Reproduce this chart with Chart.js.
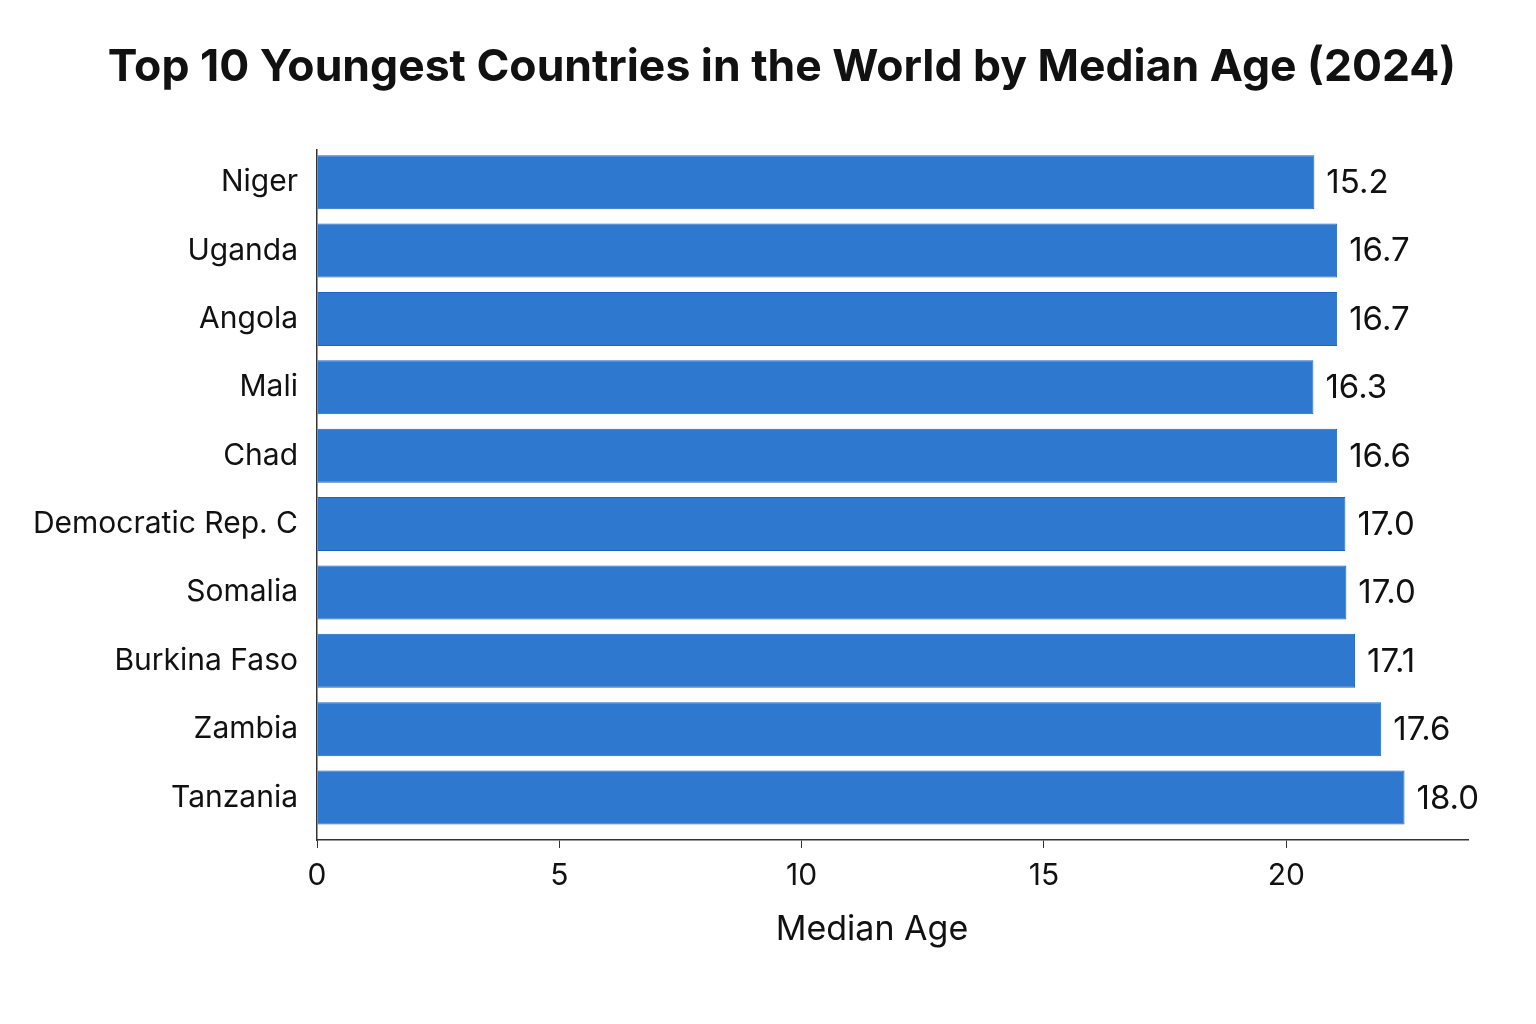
<!DOCTYPE html>
<html>
<head>
<meta charset="utf-8">
<title>Top 10 Youngest Countries</title>
<script src="https://cdn.jsdelivr.net/npm/chart.js@4.4.1/dist/chart.umd.min.js"></script>
<style>
  html, body { margin: 0; padding: 0; background: #fff; }
  #wrap { width: 1536px; height: 1024px; }
</style>
</head>
<body>
<div id="wrap"><canvas id="grafico" width="1536" height="1024"></canvas></div>
<script>
// datos
const paises = ["Niger", "Uganda", "Angola", "Mali", "Chad", "Democratic Rep. C", "Somalia", "Burkina Faso", "Zambia", "Tanzania"];
// largo de cada barra segun el eje x
const largoBarras = [20.58, 21.05, 21.05, 20.56, 21.05, 21.22, 21.24, 21.42, 21.96, 22.44];
// texto que aparece al lado de cada barra
const etiquetas = ["15.2", "16.7", "16.7", "16.3", "16.6", "17.0", "17.0", "17.1", "17.6", "18.0"];
const ticksX = [0, 5, 10, 15, 20];

const titulo = "Top 10 Youngest Countries in the World by Median Age (2024)";
const tituloEjeX = "Median Age";
const fuente = "Inter, 'Noto Sans', sans-serif";

// etiquetas al final de cada barra + titulos
const pluginTextos = {
  id: "textos",
  afterDatasetsDraw(chart) {
    const ctx = chart.ctx;
    const meta = chart.getDatasetMeta(0);
    ctx.save();
    ctx.font = "33px " + fuente;
    ctx.fillStyle = "#111";
    ctx.textAlign = "left";
    ctx.textBaseline = "middle";
    meta.data.forEach((barra, i) => {
      ctx.fillText(etiquetas[i], barra.x + 12, barra.y + 1);
    });
    ctx.restore();
  },
  afterDraw(chart) {
    const ctx = chart.ctx;
    ctx.save();
    ctx.fillStyle = "#111";
    ctx.textAlign = "center";
    ctx.textBaseline = "middle";
    ctx.font = "bold 44.5px " + fuente;
    ctx.fillText(titulo, 782, 68);
    ctx.font = "34px " + fuente;
    ctx.fillText(tituloEjeX, 872, 930);
    ctx.restore();
  }
};

const datos = paises.map((p, i) => ({ x: largoBarras[i], y: i }));

new Chart(document.getElementById("grafico"), {
  type: "bar",
  data: {
    datasets: [{
      data: datos,
      backgroundColor: "#2f78cf",
      borderColor: "#1c63c8",
      borderWidth: 1,
      barPercentage: 0.79,
      categoryPercentage: 1
    }]
  },
  options: {
    indexAxis: "y",
    responsive: false,
    animation: false,
    layout: { padding: { left: 20, right: 68, top: 150, bottom: 120 } },
    plugins: {
      legend: { display: false },
      tooltip: { enabled: false },
      title: { display: false }
    },
    scales: {
      x: {
        type: "linear",
        min: 0,
        max: 23.75,
        afterBuildTicks: (eje) => { eje.ticks = ticksX.map(v => ({ value: v })); },
        grid: { display: true, drawOnChartArea: false, drawTicks: true, tickLength: 8, color: "#333" },
        border: { display: true, color: "#333", width: 1.5 },
        ticks: { color: "#111", padding: 10, font: { family: fuente, size: 30 } }
      },
      y: {
        type: "linear",
        reverse: true,
        offset: false,
        min: -0.47,
        max: 9.62,
        afterBuildTicks: (eje) => { eje.ticks = paises.map((p, i) => ({ value: i })); },
        afterFit: (eje) => { eje.width = 297; },
        grid: { display: false, offset: false },
        border: { display: true, color: "#333", width: 1.5 },
        ticks: {
          color: "#111",
          padding: 11,
          font: { family: fuente, size: 30 },
          callback: (valor) => paises[valor]
        }
      }
    }
  },
  plugins: [pluginTextos]
});
</script>
</body>
</html>
